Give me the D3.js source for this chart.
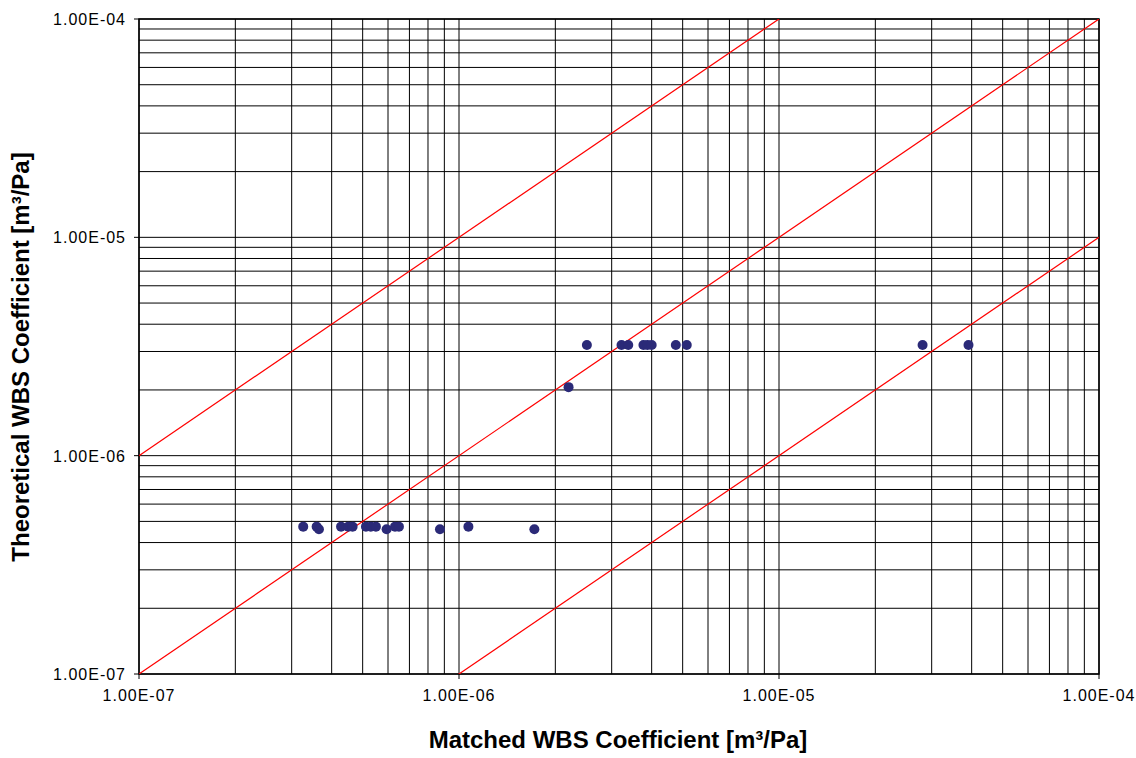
<!DOCTYPE html>
<html>
<head>
<meta charset="utf-8">
<script src="https://cdn.jsdelivr.net/npm/d3@7"></script>
<style>
  html, body { margin: 0; padding: 0; background: #fff; }
  svg { display: block; }
  .tick-label { font-family: "Liberation Sans", Arial, sans-serif; font-size: 16px; letter-spacing: 1px; fill: #000; }
  .axis-title { font-family: "Liberation Sans", Arial, sans-serif; font-size: 24px; font-weight: bold; fill: #000; }
</style>
</head>
<body>
<svg id="chart" width="1136" height="758"></svg>
<script>
// Matched (x) vs theoretical (y) WBS coefficients, m^3/Pa
const matched = [
  3.26e-7, 3.59e-7, 3.65e-7, 4.28e-7, 4.51e-7, 4.65e-7, 5.12e-7, 5.30e-7,
  5.50e-7, 5.94e-7, 6.31e-7, 6.49e-7, 8.72e-7, 1.07e-6, 1.72e-6,
  2.20e-6, 2.51e-6, 3.22e-6, 3.38e-6, 3.77e-6, 3.88e-6, 4.00e-6, 4.76e-6, 5.15e-6,
  2.81e-5, 3.91e-5
];
const theoretical = [
  4.73e-7, 4.73e-7, 4.60e-7, 4.73e-7, 4.73e-7, 4.73e-7, 4.73e-7, 4.73e-7,
  4.73e-7, 4.60e-7, 4.73e-7, 4.73e-7, 4.60e-7, 4.73e-7, 4.60e-7,
  2.06e-6, 3.21e-6, 3.21e-6, 3.21e-6, 3.21e-6, 3.21e-6, 3.21e-6, 3.21e-6, 3.21e-6,
  3.21e-6, 3.21e-6
];
// Reference ratio lines: theoretical = factor * matched
const ratioFactors = [10, 1, 0.1];
const axisDomain = [1e-7, 1e-4];
const majorTicks = [1e-7, 1e-6, 1e-5, 1e-4];
const tickLabels = ["1.00E-07", "1.00E-06", "1.00E-05", "1.00E-04"];

const plot = { left: 139, right: 1099, top: 19, bottom: 674 };

const svg = d3.select("#chart");
const x = d3.scaleLog().domain(axisDomain).range([plot.left, plot.right]);
const y = d3.scaleLog().domain(axisDomain).range([plot.bottom, plot.top]);

// all gridline values: 1..9 within each decade
const gridVals = [];
for (let e = -7; e < -4; e++) {
  for (let m = 1; m <= 9; m++) gridVals.push(m * Math.pow(10, e));
}
gridVals.push(1e-4);

const grid = svg.append("g");
grid.selectAll("line.v").data(gridVals).join("line")
  .attr("x1", d => x(d)).attr("x2", d => x(d))
  .attr("y1", plot.top).attr("y2", plot.bottom)
  .attr("stroke", "#000").attr("stroke-width", 1);
grid.selectAll("line.h").data(gridVals).join("line")
  .attr("y1", d => y(d)).attr("y2", d => y(d))
  .attr("x1", plot.left).attr("x2", plot.right)
  .attr("stroke", "#000").attr("stroke-width", 1);

// plot frame
svg.append("rect")
  .attr("x", plot.left).attr("y", plot.top)
  .attr("width", plot.right - plot.left).attr("height", plot.bottom - plot.top)
  .attr("fill", "none").attr("stroke", "#000").attr("stroke-width", 1.5);

// ratio lines clipped to plot area
svg.append("clipPath").attr("id", "clip").append("rect")
  .attr("x", plot.left).attr("y", plot.top)
  .attr("width", plot.right - plot.left).attr("height", plot.bottom - plot.top);
svg.append("g").attr("clip-path", "url(#clip)")
  .selectAll("line").data(ratioFactors).join("line")
  .attr("x1", x(axisDomain[0])).attr("y1", d => y(axisDomain[0] * d))
  .attr("x2", x(axisDomain[1])).attr("y2", d => y(axisDomain[1] * d))
  .attr("stroke", "#ff0000").attr("stroke-width", 1.2);

// tick marks
const ticks = svg.append("g");
ticks.selectAll("line.xt").data(majorTicks).join("line")
  .attr("x1", d => x(d)).attr("x2", d => x(d))
  .attr("y1", plot.bottom).attr("y2", plot.bottom + 5)
  .attr("stroke", "#000");
ticks.selectAll("line.yt").data(majorTicks).join("line")
  .attr("y1", d => y(d)).attr("y2", d => y(d))
  .attr("x1", plot.left - 5).attr("x2", plot.left)
  .attr("stroke", "#000");

// tick labels
svg.append("g").selectAll("text").data(majorTicks).join("text")
  .attr("class", "tick-label")
  .attr("x", d => x(d)).attr("y", plot.bottom + 27)
  .attr("text-anchor", "middle")
  .text((d, i) => tickLabels[i]);
svg.append("g").selectAll("text").data(majorTicks).join("text")
  .attr("class", "tick-label")
  .attr("x", plot.left - 13).attr("y", d => y(d) + 6)
  .attr("text-anchor", "end")
  .text((d, i) => tickLabels[i]);

// data points
svg.append("g").selectAll("circle").data(matched).join("circle")
  .attr("cx", d => x(d))
  .attr("cy", (d, i) => y(theoretical[i]))
  .attr("r", 5)
  .attr("fill", "#2b2a78");

// axis titles
svg.append("text").attr("class", "axis-title")
  .attr("x", 618).attr("y", 748)
  .attr("text-anchor", "middle")
  .text("Matched WBS Coefficient [m³/Pa]");
svg.append("text").attr("class", "axis-title")
  .attr("transform", "translate(29, 357) rotate(-90)")
  .attr("text-anchor", "middle")
  .text("Theoretical WBS Coefficient [m³/Pa]");
</script>
</body>
</html>
